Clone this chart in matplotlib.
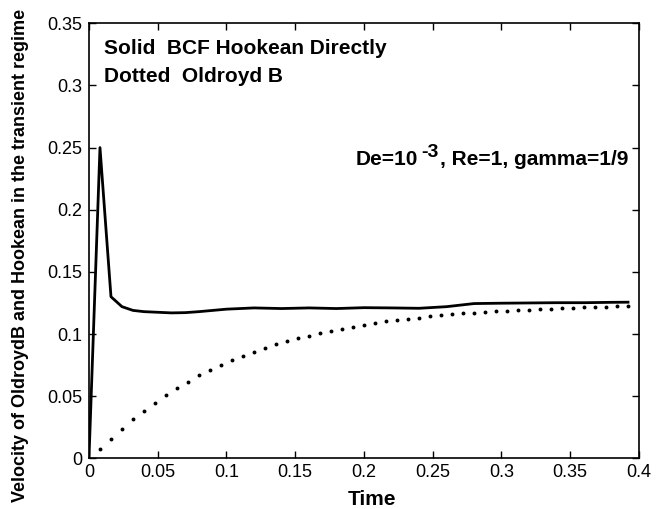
import matplotlib
matplotlib.use("Agg")
import matplotlib.pyplot as plt
import numpy as np

plt.rcParams['font.family'] = ['Liberation Sans', 'DejaVu Sans']

# solid: BCF Hookean directly
solid_t = [0, 0.008, 0.016, 0.024, 0.032, 0.04, 0.05, 0.06, 0.07, 0.08, 0.09, 0.10,
           0.12, 0.14, 0.16, 0.18, 0.20, 0.22, 0.24, 0.26, 0.28, 0.30, 0.32, 0.34,
           0.36, 0.38, 0.392]
solid_v = [0, 0.250, 0.130, 0.122, 0.119, 0.118, 0.1175, 0.117, 0.1172, 0.118, 0.119, 0.120,
           0.121, 0.1205, 0.121, 0.1205, 0.1212, 0.121, 0.1207, 0.122, 0.1245, 0.1248, 0.125,
           0.1252, 0.1252, 0.1255, 0.1256]

# dotted: Oldroyd B, sampled every 0.008
time_step = 0.008
dotted_v = [0.0077, 0.0158, 0.0236, 0.0314, 0.0383, 0.0447, 0.0509, 0.0566, 0.0616, 0.0668,
            0.0710, 0.0753, 0.0790, 0.0826, 0.0858, 0.0887, 0.0917, 0.0941, 0.0968, 0.0987,
            0.1005, 0.1027, 0.1043, 0.1059, 0.1075, 0.1088, 0.1102, 0.1113, 0.1121, 0.1131,
            0.1142, 0.1150, 0.1158, 0.1166, 0.1171, 0.1177, 0.1183, 0.1187, 0.1190, 0.1196,
            0.1201, 0.1203, 0.1209, 0.1212, 0.1215, 0.1217, 0.1220, 0.1223, 0.1225]
dotted_t = time_step * np.arange(1, len(dotted_v) + 1)

xticks = [0, 0.05, 0.1, 0.15, 0.2, 0.25, 0.3, 0.35, 0.4]
xticklabels = ['0', '0.05', '0.1', '0.15', '0.2', '0.25', '0.3', '0.35', '0.4']
yticks = [0, 0.05, 0.1, 0.15, 0.2, 0.25, 0.3, 0.35]
yticklabels = ['0', '0.05', '0.1', '0.15', '0.2', '0.25', '0.3', '0.35']

fig = plt.figure(figsize=(6.63, 5.09), dpi=100)
ax = fig.add_axes([0.1342, 0.0996, 0.8296, 0.8546])

ax.plot(solid_t, solid_v, color='black', lw=2)
ax.plot(dotted_t, dotted_v, linestyle='none', marker='o', ms=1.8, color='black')

ax.set_xlim(0, 0.4)
ax.set_ylim(0, 0.35)
ax.set_xticks(xticks)
ax.set_xticklabels(xticklabels)
ax.set_yticks(yticks)
ax.set_yticklabels(yticklabels)
ax.tick_params(direction='in', top=True, right=True, length=5, width=1,
               labelsize=13)
ax.tick_params(axis='y', pad=5)
ax.tick_params(axis='x', pad=4)
for s in ax.spines.values():
    s.set_linewidth(1.2)

fig.text(0.561, 0.0196, 'Time', fontsize=15, fontweight='bold',
         ha='center', va='center')
fig.text(0.031, 0.499, 'Velocity of OldroydB and Hookean in the transient regime',
         fontsize=13, fontweight='bold', rotation=90, ha='center', va='center')

ax.text(0.027, 0.941, 'Solid  BCF Hookean Directly', transform=ax.transAxes,
        fontsize=15, fontweight='bold', va='center')
ax.text(0.027, 0.8766, 'Dotted  Oldroyd B', transform=ax.transAxes,
        fontsize=15, fontweight='bold', va='center')

# parameters line, with a plain hyphen in the exponent
t1 = ax.text(0.484, 0.686, 'De=10', transform=ax.transAxes,
             fontsize=15, fontweight='bold', va='center', ha='left')
t2 = ax.annotate('-3', xy=(1, 0.42), xycoords=t1, xytext=(3, 0),
                 textcoords='offset points', fontsize=14, fontweight='bold',
                 va='bottom', ha='left')
ax.annotate(', Re=1, gamma=1/9', xy=(1, 0), xycoords=(t2, t1), xytext=(1, 0),
            textcoords='offset points', fontsize=15, fontweight='bold',
            va='bottom', ha='left')

fig.savefig('out.png', dpi=100)
